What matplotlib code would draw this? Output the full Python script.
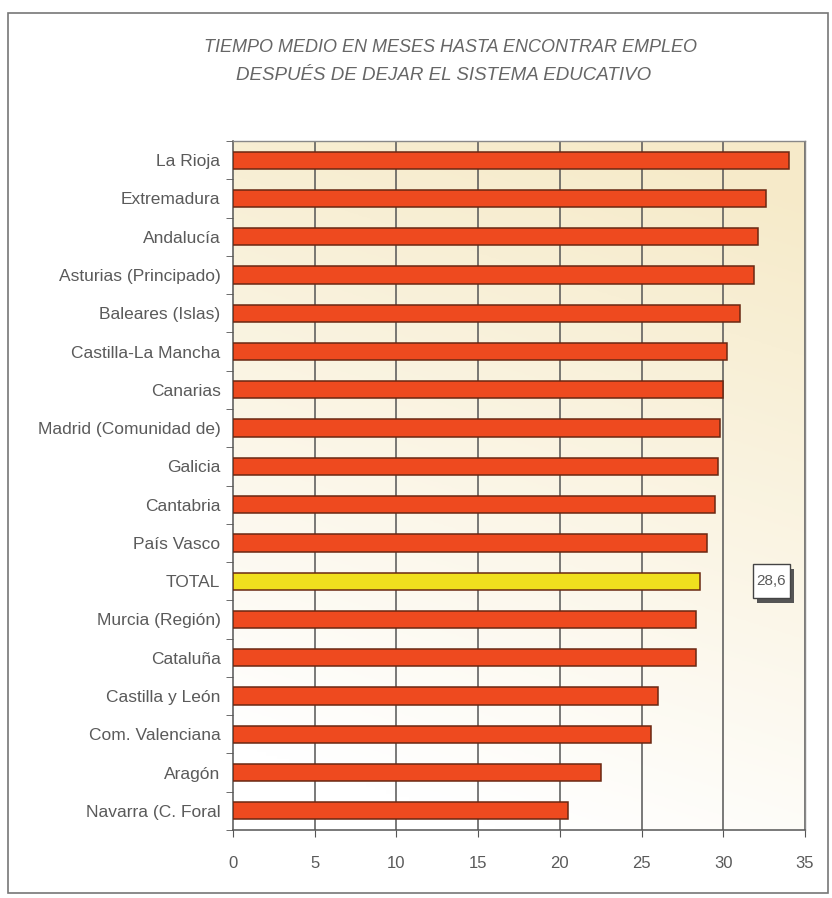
import numpy as np
import matplotlib
matplotlib.use("Agg")
import matplotlib.pyplot as plt
from matplotlib.patches import Rectangle

categories = ["La Rioja", "Extremadura", "Andalucía", "Asturias (Principado)", "Baleares (Islas)",
              "Castilla-La Mancha", "Canarias", "Madrid (Comunidad de)", "Galicia", "Cantabria",
              "País Vasco", "TOTAL", "Murcia (Región)", "Cataluña", "Castilla y León",
              "Com. Valenciana", "Aragón", "Navarra (C. Foral"]
values = [34.0, 32.6, 32.1, 31.9, 31.0, 30.2, 30.0, 29.8, 29.7, 29.5,
          29.0, 28.6, 28.3, 28.3, 26.0, 25.6, 22.5, 20.5]
xticks = [0, 5, 10, 15, 20, 25, 30, 35]
title_lines = ["TIEMPO MEDIO EN MESES HASTA ENCONTRAR EMPLEO",
               "DESPUÉS DE DEJAR EL SISTEMA EDUCATIVO"]
total_label = "28,6"

FONT = ["Liberation Sans Narrow", "Liberation Sans", "DejaVu Sans"]
plt.rcParams['font.family'] = FONT
TXT = "#5a5a5a"

fig = plt.figure(figsize=(8.32, 8.98), dpi=100)
fig.patch.set_facecolor("white")

# outer frame
fig.patches.append(Rectangle((8/832, 1-893/898), (828-8)/832, (893-13)/898,
                             transform=fig.transFigure, fill=False,
                             edgecolor="#777777", linewidth=1.2))

ax = fig.add_axes([233/832, 1-830/898, (805-233)/832, (830-141)/898])

n = len(categories)
y = np.arange(n)

# gradient background
gx, gy = np.meshgrid(np.linspace(0, 1, 200), np.linspace(0, 1, 200))
t = np.clip(0.95 * gy + 0.25 * gx - 0.12, 0, 1)  # gy=0 bottom
c1 = np.array([1.0, 1.0, 1.0])
c2 = np.array([0.965, 0.92, 0.79])
img = c1[None, None, :] * (1 - t[..., None]) + c2[None, None, :] * t[..., None]
ax.imshow(img, extent=[0, 35, n - 0.5, -0.5], origin="lower", aspect="auto", zorder=0)

colors = ["#f0df1e" if c == "TOTAL" else "#ee4a1f" for c in categories]
ax.barh(y, values, height=0.45, color=colors, edgecolor="#6a2812", linewidth=1.1, zorder=3)

ax.set_xlim(0, 35)
ax.set_ylim(n - 0.5, -0.5)
ax.set_xticks(xticks)
ax.set_xticklabels([str(v) for v in xticks], color=TXT, fontsize=12)
ax.set_yticks(y)
ax.set_yticklabels(categories, color=TXT, fontsize=12.5)
ax.tick_params(axis="y", which="major", length=0, pad=9)
ax.set_yticks(np.arange(-0.5, n, 1.0), minor=True)
ax.tick_params(axis="y", which="minor", length=5, color="#555555", direction="out")
ax.tick_params(axis="x", length=5, color="#555555", pad=14, direction="out")

for xv in xticks[1:]:
    ax.axvline(xv, color="#555555", linewidth=1.1, zorder=2)

for side in ["left", "bottom"]:
    ax.spines[side].set_color("#555555")
    ax.spines[side].set_linewidth(1.1)
for side in ["top", "right"]:
    ax.spines[side].set_color("#888888")
    ax.spines[side].set_linewidth(1.0)

# TOTAL annotation box with shadow
ti = categories.index("TOTAL")
bx, bw, bh = 31.8, 2.3, 0.9
ax.add_patch(Rectangle((bx + 0.25, ti - bh / 2 + 0.12), bw, bh, facecolor="#555555",
                       edgecolor="none", zorder=4))
ax.add_patch(Rectangle((bx, ti - bh / 2), bw, bh, facecolor="white",
                       edgecolor="#444444", linewidth=1.0, zorder=5))
ax.text(bx + bw / 2, ti, total_label, ha="center", va="center", fontsize=11, color=TXT, zorder=6)

fig.text(450/832, 1-47/898, title_lines[0], ha="center", va="center", fontsize=13,
         style="italic", color="#666666")
fig.text(444/832, 1-75/898, title_lines[1], ha="center", va="center", fontsize=13.5,
         style="italic", color="#666666")

fig.savefig("out.png", dpi=100, facecolor="white")
